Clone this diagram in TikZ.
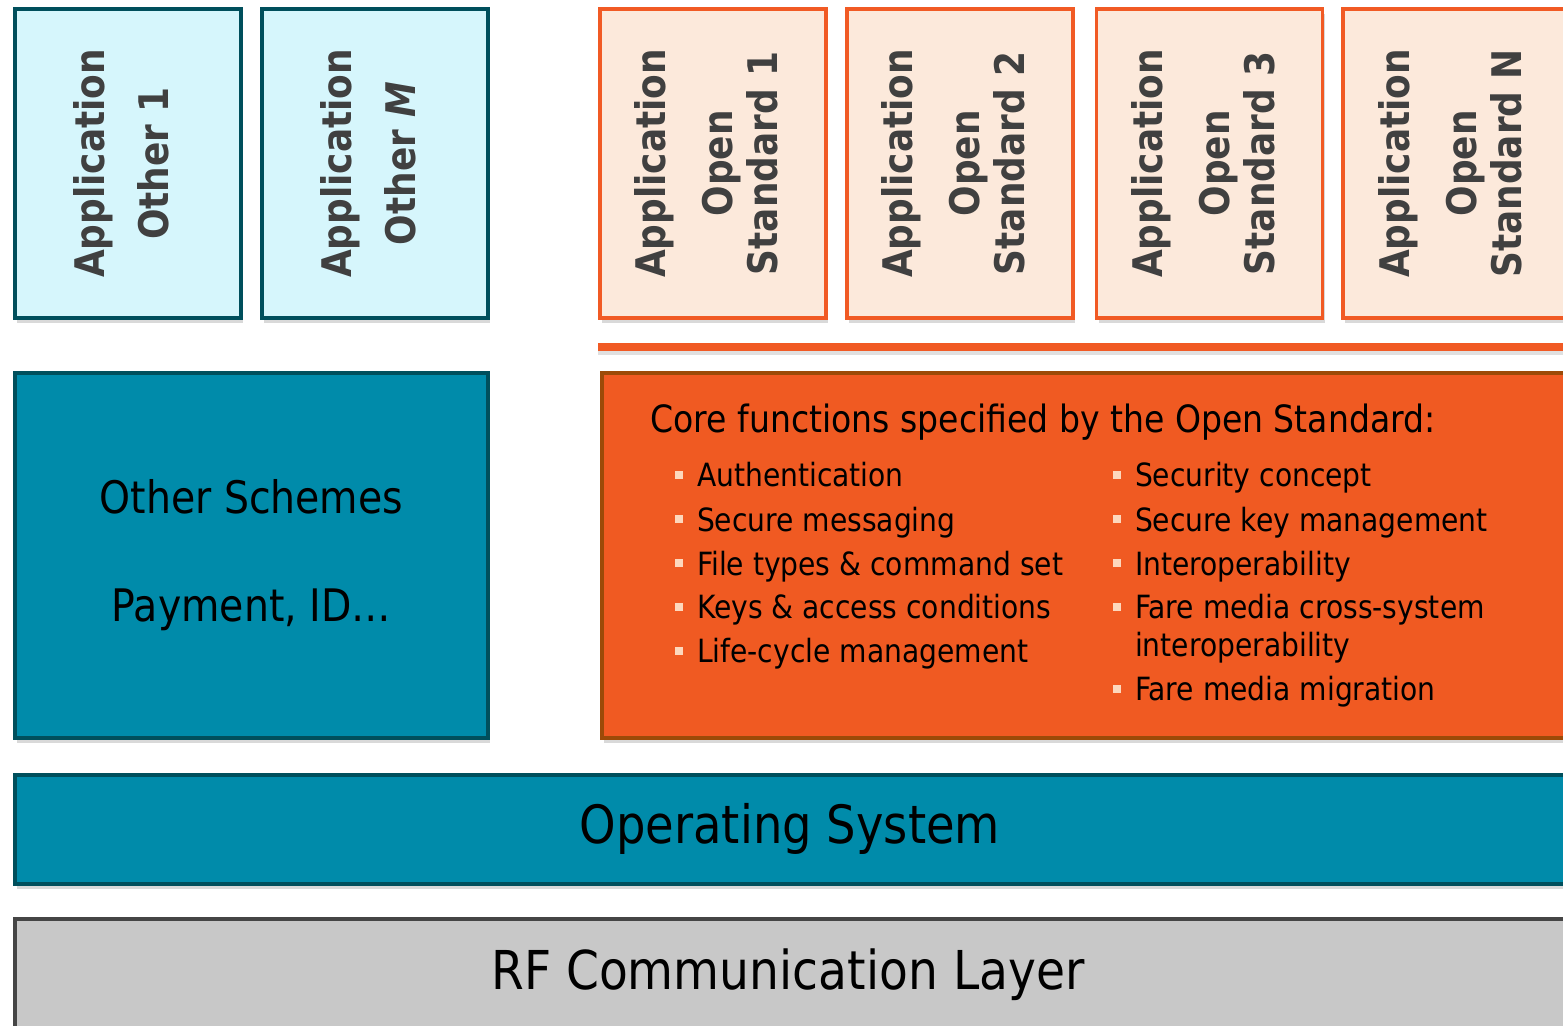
\documentclass[tikz,border=0pt]{standalone}
\usepackage{fontspec}
\setmainfont[FakeStretch=0.88]{DejaVu Sans}
\usepackage{graphicx}
\usepackage{xcolor}
\usepackage{tikz}
\usetikzlibrary{positioning,shadows}
\definecolor{appcyan}{HTML}{D6F6FC}
\definecolor{tealdark}{HTML}{004F5C}
\definecolor{tealfill}{HTML}{008BAA}
\definecolor{peach}{HTML}{FCE9DB}
\definecolor{stdorange}{HTML}{F15A24}
\definecolor{coreorange}{HTML}{F05A22}
\definecolor{corebrown}{HTML}{9C4A08}
\definecolor{rfgray}{HTML}{C8C8C8}
\definecolor{rfborder}{HTML}{454545}
\definecolor{apptext}{HTML}{404040}
\definecolor{bulletpeach}{HTML}{FDD8BD}
\newcommand{\sqbullet}{\textcolor{bulletpeach}{\rule[4pt]{3.8pt}{3.8pt}}}
\newcommand{\appother}[1]{\rotatebox{90}{\begin{tabular}{@{}c@{}}Application\\[9.5pt]#1\end{tabular}}}
\newcommand{\appstd}[1]{\rotatebox{90}{\begin{tabular}{@{}c@{}}Application\\[11pt]Open\\Standard #1\end{tabular}}}
\tikzset{
  layer/.style={draw,line width=1.9pt,inner sep=0pt,
    drop shadow={fill=black,opacity=0.15,shadow xshift=1pt,shadow yshift=-2.5pt}},
  otherapp/.style={layer,draw=tealdark,fill=appcyan,text=apptext,
    minimum width=113pt,minimum height=154.5pt,font=\fontsize{20.4}{22.5}\selectfont\bfseries},
  stdapp/.style={otherapp,draw=stdorange,fill=peach},
  stdbar/.style={fill=stdorange,inner sep=0pt,minimum height=4pt,
    drop shadow={fill=black,opacity=0.12,shadow xshift=0pt,shadow yshift=-2pt}},
  schemes/.style={layer,draw=tealdark,fill=tealfill,minimum width=236.5pt,minimum height=182.5pt,
    align=center,font=\fontsize{22.4}{54}\selectfont},
  coreblock/.style={layer,draw=corebrown,fill=coreorange,minimum width=490pt,minimum height=182.5pt},
  coretitle/.style={inner sep=0pt,font=\fontsize{18.8}{22}\selectfont},
  corelist/.style={inner sep=0pt,font=\fontsize{16}{22}\selectfont},
  oslayer/.style={layer,draw=tealdark,fill=tealfill,minimum width=781pt,minimum height=54.5pt,
    font=\fontsize{26.4}{30}\selectfont},
  rflayer/.style={layer,draw=rfborder,fill=rfgray,minimum width=781pt,minimum height=56pt,
    font=\fontsize{26.8}{30}\selectfont}
}
\begin{document}
\begin{tikzpicture}[x=0.5pt,y=-0.5pt,node distance=8.5pt]
  \useasboundingbox (0,0) rectangle (1563,1026);
  \node[otherapp,anchor=north west] (other1) at (13,7) {\appother{Other 1}};
  \node[otherapp,right=of other1] (otherM) {\appother{Other {\itshape M}}};
  \node[stdapp,anchor=north west] (std1) at (598,7) {\appstd{1}};
  \node[stdapp,right=of std1] (std2) {\appstd{2}};
  \node[stdapp,right=10pt of std2] (std3) {\appstd{3}};
  \node[stdapp,right=of std3] (stdN) {\appstd{N}};
  \node[stdbar,anchor=north west,minimum width=490pt] (stdline) at (598,343) {};
  \node[schemes,anchor=north west] (schemes) at (13,371) {Other Schemes\\Payment, ID…};
  \node[coreblock,anchor=north west] (core) at (600,371) {};
  \node[coretitle,anchor=base west] (coretitle) at (650,433) {Core functions specified by the Open Standard:};
  \node[corelist,anchor=base west] (listL) at (675,487) {%
    \begin{tabular}[t]{@{}l@{\hspace{7pt}}l@{}}
      \sqbullet & Authentication\\
      \sqbullet & Secure messaging\\
      \sqbullet & File types \& command set\\
      \sqbullet & Keys \& access conditions\\
      \sqbullet & Life-cycle management
    \end{tabular}};
  \node[corelist,anchor=base west] (listR) at (1113,487) {%
    \begin{tabular}[t]{@{}l@{\hspace{7pt}}l@{}}
      \sqbullet & Security concept\\
      \sqbullet & Secure key management\\
      \sqbullet & Interoperability\\
      \sqbullet & Fare media cross-system\\[-3pt]
                & interoperability\\
      \sqbullet & Fare media migration
    \end{tabular}};
  \node[oslayer,anchor=north west] (os) at (13,773) {Operating System\rule{6pt}{0pt}};
  \node[rflayer,anchor=north west] (rf) at (13,917) {RF Communication Layer\rule{8pt}{0pt}};
\end{tikzpicture}
\end{document}
